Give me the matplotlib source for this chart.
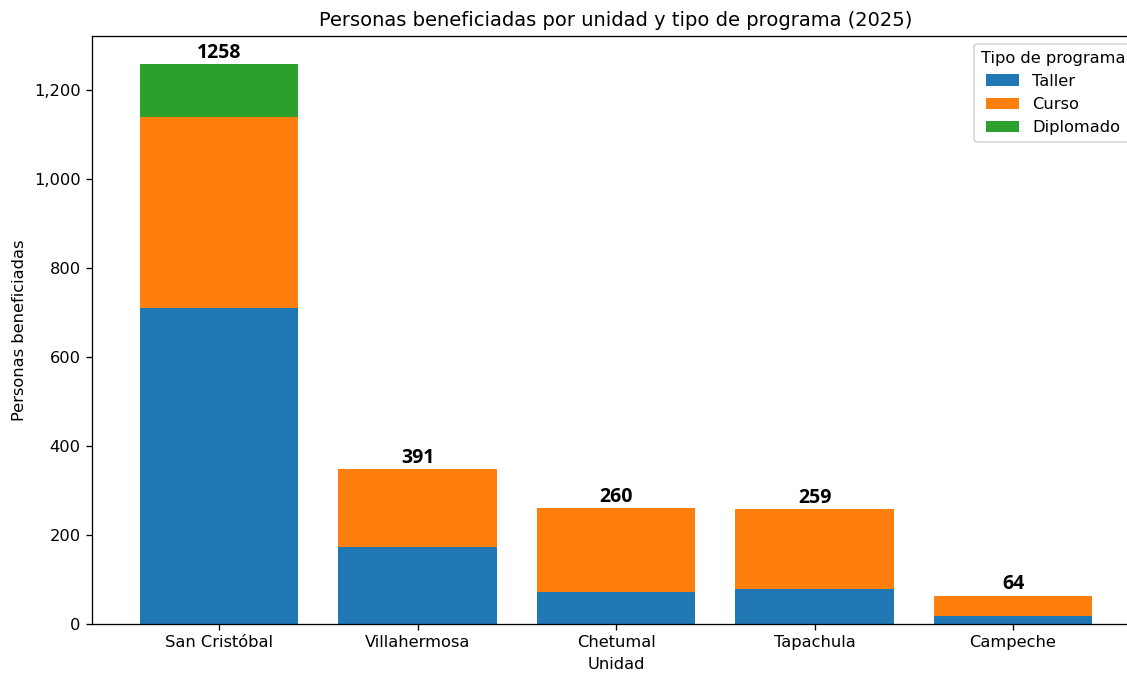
import matplotlib
matplotlib.use("Agg")
import matplotlib.pyplot as plt
import matplotlib.ticker as mticker
import numpy as np

unidades = ["San Cristóbal", "Villahermosa", "Chetumal", "Tapachula", "Campeche"]
taller = [711, 172, 71, 79, 18]
curso = [429, 176, 189, 179, 46]
diplomado = [118, 0, 0, 0, 0]
total_labels = ["1258", "391", "260", "259", "64"]

DPI = 117
fig = plt.figure(figsize=(1127 / DPI, 673 / DPI), dpi=DPI)
ax = fig.add_axes([0.0816, 0.0728, 0.930, 0.8737])

x = np.arange(len(unidades))
ax.bar(x, taller, 0.8, label="Taller", color="#1f77b4")
ax.bar(x, curso, 0.8, bottom=taller, label="Curso", color="#ff7f0e")
bottom2 = np.array(taller) + np.array(curso)
ax.bar(x, diplomado, 0.8, bottom=bottom2, label="Diplomado", color="#2ca02c")

tops = bottom2 + np.array(diplomado)
for xi, top, lab in zip(x, tops, total_labels):
    ax.annotate(lab, (xi, top), xytext=(0, 0.8), textcoords="offset points",
                ha="center", va="bottom", fontsize=12, fontweight="bold",
                family=["Open Sans", "DejaVu Sans"])

ax.set_xticks(x)
ax.set_xticklabels(unidades)
ax.yaxis.set_major_formatter(mticker.StrMethodFormatter("{x:,.0f}"))
ax.set_xlabel("Unidad")
ax.set_ylabel("Personas beneficiadas")
ax.set_title("Personas beneficiadas por unidad y tipo de programa (2025)")
ax.legend(title="Tipo de programa", loc="upper right")

fig.savefig("out.png", dpi=DPI)
